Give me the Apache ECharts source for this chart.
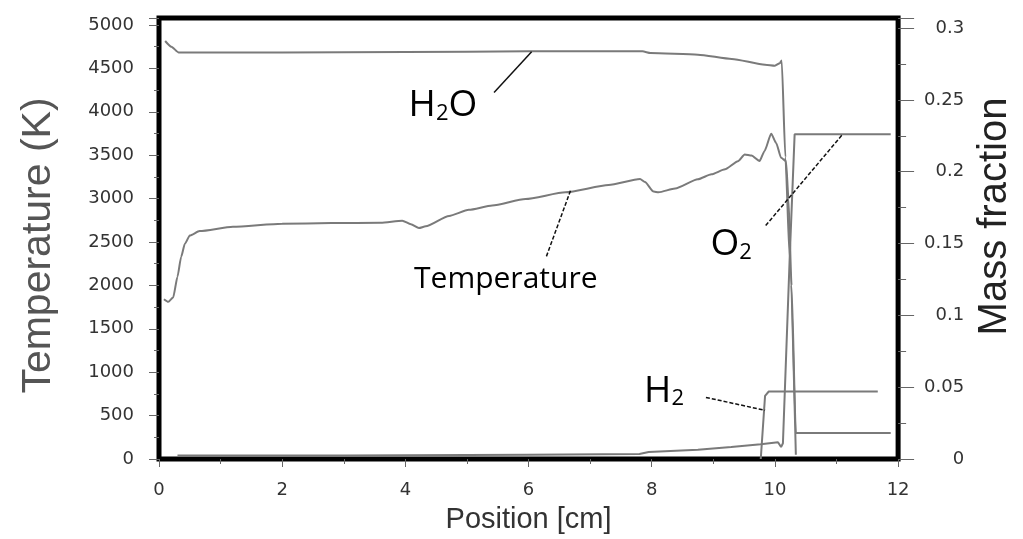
<!DOCTYPE html>
<html><head><meta charset="utf-8">
<script src="https://cdn.jsdelivr.net/npm/echarts@6/dist/echarts.min.js"></script>
<style>html,body{margin:0;padding:0;background:#fff}#c{width:1023px;height:539px}</style>
</head><body><div id="c"></div>
<script>
// ---- data (x = position in cm) ----
const temperature = [[0.08,1840],[0.15,1810],[0.23,1860],[0.30,2100],[0.36,2330],[0.42,2480],[0.50,2575],[0.66,2625],[1.2,2675],[2.0,2710],[2.8,2718],[3.6,2720],[3.95,2745],[4.09,2705],[4.22,2660],[4.33,2680],[4.71,2800],[5.03,2870],[5.41,2920],[5.95,2995],[6.60,3072],[7.30,3155],[7.81,3225],[7.89,3190],[8.03,3080],[8.11,3072],[8.38,3117],[8.75,3223],[8.97,3280],[9.19,3337],[9.40,3430],[9.51,3508],[9.62,3495],[9.75,3432],[9.83,3546],[9.94,3747],[10.02,3641],[10.10,3470],[10.18,3432],[10.22,3000],[10.27,2000],[10.34,300],[11.88,300]];
const h2o = [[0.1,0.291],[0.2,0.287],[0.32,0.283],[2.0,0.283],[4.0,0.2833],[6.0,0.2838],[7.85,0.2838],[7.98,0.2826],[8.75,0.2815],[9.3,0.2785],[9.84,0.2745],[10.0,0.2738],[10.08,0.2755],[10.11,0.2775],[10.17,0.21],[10.24,0.14],[10.34,0.003]];
const o2 = [[0.3,0.0025],[3.0,0.0025],[6.0,0.003],[7.8,0.0035],[7.95,0.0048],[8.75,0.0064],[9.29,0.0083],[9.77,0.0102],[10.05,0.0117],[10.10,0.0083],[10.13,0.011],[10.24,0.14],[10.32,0.226],[11.88,0.226]];
const h2 = [[9.77,0.0],[9.84,0.044],[9.9,0.047],[11.67,0.047]];
const xInterval = 2, tempInterval = 500, fracInterval = 0.05;

// annotations (data coords: x in cm, y on temperature axis)
const notes = [
  {rich:'{a|H}{b|2}{a|O}', x:4.61, y:4108},
  {rich:'{t|Temperature}', x:5.63, y:2071},
  {rich:'{a|O}{b|2}', x:9.29, y:2506},
  {rich:'{a|H}{b|2}', x:8.20, y:824}
];
const leaders = [
  {from:[5.44,4222], to:[6.05,4691], dash:false},
  {from:[6.29,2334], to:[6.68,3089], dash:true},
  {from:[9.85,2689], to:[11.10,3741], dash:true},
  {from:[8.88,709], to:[9.84,561], dash:true}
];

const chart = echarts.init(document.getElementById('c'), null, {renderer:'canvas'});
const tickLbl = {fontSize:18, fontFamily:'DejaVu Sans', color:'#333'};
const curve = {color:'#7a7a7a', width:2};
chart.setOption({
  animation:false,
  backgroundColor:'#fff',
  grid:{left:159, top:18, width:741.6, height:444, show:true, borderColor:'#000', borderWidth:5, backgroundColor:'transparent'},
  xAxis:{type:'value', min:0, max:12, interval:xInterval,
    axisLine:{show:false}, splitLine:{show:false},
    axisTick:{show:true, length:8, lineStyle:{color:'#666'}},
    minorTick:{show:true, splitNumber:2, length:5, lineStyle:{color:'#666'}},
    axisLabel:Object.assign({margin:22}, tickLbl),
    name:'Position [cm]', nameLocation:'middle', nameGap:46,
    nameTextStyle:{fontSize:29, fontFamily:'Liberation Sans', color:'#333'}},
  yAxis:[
    {type:'value', position:'left', min:0, max:5080, interval:tempInterval,
      axisLine:{show:false}, splitLine:{show:false},
      axisTick:{show:true, length:10, lineStyle:{color:'#666'}},
      minorTick:{show:true, splitNumber:2, length:5, lineStyle:{color:'#666'}},
      axisLabel:Object.assign({margin:25, formatter:v => (v % 500 === 0 ? String(v) : '')}, tickLbl),
      name:'Temperature (K)', nameLocation:'middle', nameGap:100, nameRotate:90,
      nameTextStyle:{fontSize:41, fontFamily:'Liberation Sans', color:'#555', padding:[0,14,0,0]}},
    {type:'value', position:'right', min:0, max:0.307, interval:fracInterval,
      axisLine:{show:false}, splitLine:{show:false},
      axisTick:{show:true, length:16, lineStyle:{color:'#666'}},
      minorTick:{show:true, splitNumber:2, length:8, lineStyle:{color:'#666'}},
      axisLabel:Object.assign({margin:66, align:'right', formatter:v => (Math.abs(v*20 - Math.round(v*20)) < 1e-6 ? String(parseFloat(v.toFixed(2))) : '')}, tickLbl),
      name:'Mass fraction', nameLocation:'middle', nameGap:75, nameRotate:90,
      nameTextStyle:{fontSize:40, fontFamily:'Liberation Sans', color:'#222', padding:[0,0,0,44]}}
  ],
  series:[
    {name:'Temperature', type:'line', yAxisIndex:0, data:temperature, showSymbol:false, lineStyle:curve, z:3, smooth:0.2, smoothMonotone:'x'},
    {name:'H2O', type:'line', yAxisIndex:1, data:h2o, showSymbol:false, lineStyle:curve, z:3, smooth:0.2, smoothMonotone:'x'},
    {name:'O2', type:'line', yAxisIndex:1, data:o2, showSymbol:false, lineStyle:curve, z:3},
    {name:'H2', type:'line', yAxisIndex:1, data:h2, showSymbol:false, lineStyle:curve, z:3}
  ]
});

const px = p => chart.convertToPixel({xAxisIndex:0, yAxisIndex:0}, p);
const rich = {
  a:{fontSize:37, fontFamily:'Open Sans', color:'#111', lineHeight:44, verticalAlign:'bottom'},
  b:{fontSize:22, fontFamily:'Open Sans', color:'#111', lineHeight:20, verticalAlign:'bottom'},
  t:{fontSize:30, fontFamily:'Open Sans', color:'#222'}
};
const g = [];
notes.forEach(n => {
  const p = px([n.x, n.y]);
  g.push({type:'text', x:p[0], y:p[1], z:10, style:{text:n.rich, rich:rich, align:'center', verticalAlign:'middle'}});
});
leaders.forEach(l => {
  const a = px(l.from), b = px(l.to);
  g.push({type:'line', z:10, shape:{x1:a[0], y1:a[1], x2:b[0], y2:b[1]},
    style:{stroke:'#111', lineWidth:1.5, lineDash:l.dash ? [4,2] : null}});
});
chart.setOption({graphic:g});
</script>
</body></html>
